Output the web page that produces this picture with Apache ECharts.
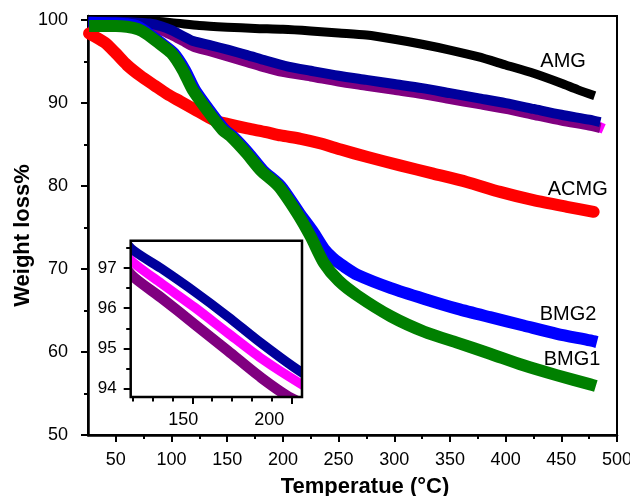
<!DOCTYPE html>
<html>
<head>
<meta charset="utf-8">
<script src="https://cdn.jsdelivr.net/npm/echarts@6/dist/echarts.min.js"></script>
<style>html,body{margin:0;padding:0;background:#fff}#c{width:630px;height:496px}</style>
</head>
<body>
<div id="c"></div>
<script>
// ---- data (temperature °C, weight %) ----
const amgT  = [25, 50, 75, 100, 125, 150, 175, 200, 225, 250, 275, 300, 325, 350, 375, 400, 425, 450, 465, 480];
const amgW  = [100, 100, 99.95, 99.7, 99.35, 99.15, 99.0, 98.9, 98.7, 98.45, 98.2, 97.7, 97.1, 96.4, 95.6, 94.6, 93.6, 92.4, 91.6, 90.9];
const acmgT = [26, 40, 50, 60, 72, 85, 96, 108, 120, 138, 150, 168, 185, 198, 216, 235, 252, 276, 305, 335, 365, 395, 425, 455, 479];
const acmgW = [98.4, 97.3, 96.0, 94.6, 93.3, 92.1, 91.1, 90.2, 89.3, 87.95, 87.5, 86.95, 86.5, 86.1, 85.7, 85.1, 84.4, 83.5, 82.5, 81.5, 80.5, 79.3, 78.3, 77.5, 76.9];
const bmg1T = [26, 50, 60, 70, 77, 88, 100, 110, 119, 135, 146, 153, 167, 180, 196, 213, 225, 237, 250, 267, 297, 327, 357, 386, 416, 446, 476, 481];
const bmg1W = [99.3, 99.3, 99.2, 98.9, 98.4, 97.3, 96.0, 94.0, 91.6, 88.6, 86.75, 86.0, 84.0, 81.9, 80.0, 76.7, 73.9, 70.7, 68.6, 66.8, 64.3, 62.45, 61.1, 59.8, 58.4, 57.2, 56.1, 55.9];
const bmg2T = [26, 50, 60, 70, 78, 90, 102, 112, 121, 137, 148, 155, 169, 182, 198, 215, 227, 237, 245, 255, 267, 297, 327, 357, 386, 416, 446, 476, 482];
const bmg2W = [99.7, 99.6, 99.5, 99.2, 98.5, 97.3, 96.0, 94.0, 91.6, 88.6, 86.75, 86.0, 84.0, 81.9, 80.0, 76.7, 74.5, 72.4, 71.3, 70.3, 69.3, 67.7, 66.4, 65.2, 64.2, 63.2, 62.2, 61.4, 61.2];
const hmg3T = [25, 50, 70, 80, 90, 100, 110, 119.4, 134.4, 151.2, 167.9, 184.6, 204.7, 225, 250, 275, 300, 325, 350, 375, 400, 425, 450, 475, 485];
const hmg3W = [99.8, 99.8, 99.7, 99.6, 99.3, 98.8, 98.1, 97.48, 96.99, 96.41, 95.79, 95.13, 94.41, 93.9, 93.3, 92.8, 92.3, 91.8, 91.2, 90.6, 90.0, 89.3, 88.6, 88.0, 87.7];
const hmg2T = [25, 50, 70, 80, 90, 100, 110, 119.4, 134.4, 151.2, 167.9, 184.6, 199.7, 225, 250, 275, 300, 325, 350, 375, 400, 425, 450, 475, 485];
const hmg2W = [99.6, 99.6, 99.4, 99.2, 98.8, 98.2, 97.5, 96.83, 96.26, 95.6, 94.94, 94.27, 93.76, 93.2, 92.6, 92.1, 91.6, 91.1, 90.5, 89.9, 89.3, 88.6, 87.9, 87.3, 87.0];
const hmg1T = [25, 50, 70, 80, 90, 100, 110, 119.4, 134.4, 151.2, 167.9, 184.6, 204.7, 225, 250, 275, 300, 325, 350, 375, 400, 425, 450, 475, 488];
const hmg1W = [99.7, 99.7, 99.55, 99.4, 99.05, 98.5, 97.8, 97.18, 96.62, 96.02, 95.38, 94.75, 94.11, 93.55, 92.95, 92.45, 91.95, 91.45, 90.85, 90.25, 89.65, 88.95, 88.25, 87.6, 86.9];

// ---- tick values ----
const xMajor = [50, 100, 150, 200, 250, 300, 350, 400, 450, 500];
const xMinor = [75, 125, 175, 225, 275, 325, 375, 425, 475];
const yMajor = [50, 60, 70, 80, 90, 100];
const yMinor = [55, 65, 75, 85, 95];
const insetXMajor = [150, 200];
const insetXMinor = [120, 130, 140, 160, 170, 180, 190];
const insetXLabels = [150, 200];
const insetYMajor = [94, 95, 96, 97];
const insetYMinor = [94.5, 95.5, 96.5, 97.5];

const zip = (t, w) => t.map((v, i) => [v, w[i]]);
const FONT = 'Liberation Sans';

// inset geometry (visible box) and a data box shrunk so line clipping stops at the border
const IN = { left: 130.7, right: 328, top: 240.7, bottom: 99, xmin: 119.08, xmax: 205.07, ymin: 93.79, ymax: 97.68 };
const SH = 5.25;
const inW = 630 - IN.left - IN.right, inH = 496 - IN.top - IN.bottom;
const dx = SH * (IN.xmax - IN.xmin) / inW, dy = SH * (IN.ymax - IN.ymin) / inH;

function lbl(text, coord, size) {
  return {
    symbol: 'circle', symbolSize: 0, silent: true, animation: false,
    label: { show: true, position: 'inside', color: '#000', fontSize: size, fontFamily: FONT },
    data: [{ coord: coord, name: text, label: { formatter: text } }]
  };
}

function mainLine(name, t, w, color, width, extra) {
  return Object.assign({
    name: name, type: 'line', data: zip(t, w), xAxisIndex: 0, yAxisIndex: 0,
    showSymbol: false, symbol: 'none', smooth: 0.25,
    lineStyle: { color: color, width: width, cap: 'butt', join: 'round' }, z: 2
  }, extra || {});
}
function insetLine(name, t, w, color, width, extra) {
  return Object.assign({
    name: name + '_inset', type: 'line', data: zip(t, w), xAxisIndex: 5, yAxisIndex: 4,
    showSymbol: false, symbol: 'none', smooth: 0.25, clip: true,
    lineStyle: { color: color, width: width, cap: 'butt', join: 'round' }, z: 12
  }, extra || {});
}

const chart = echarts.init(document.getElementById('c'), null, { renderer: 'canvas' });
const axisLine = { show: true, lineStyle: { color: '#000', width: 2.5 } };
const noLine = { show: false };

chart.setOption({
  animation: false,
  backgroundColor: '#fff',
  textStyle: { fontFamily: FONT },
  grid: [
    { left: 88, right: 13, top: 16, bottom: 61, show: true, borderColor: '#000', borderWidth: 2, backgroundColor: 'transparent', containLabel: false, outerBoundsMode: 'none' },
    { left: IN.left, right: IN.right, top: IN.top, bottom: IN.bottom, show: true, borderColor: '#000', borderWidth: 0, backgroundColor: '#fff', z: 10, containLabel: false, outerBoundsMode: 'none' },
    { left: IN.left + SH, right: IN.right + SH, top: IN.top + SH, bottom: IN.bottom + SH, show: false, z: 10, containLabel: false, outerBoundsMode: 'none' },
    { left: IN.left, right: IN.right, top: IN.top, bottom: IN.bottom, show: true, borderColor: '#000', borderWidth: 2.5, backgroundColor: 'transparent', z: 16, containLabel: false, outerBoundsMode: 'none' }
  ],
  xAxis: [
    { type: 'value', gridIndex: 0, min: 25, max: 500, position: 'bottom',
      name: 'Temperatue (°C)', nameLocation: 'middle', nameGap: 41, nameMoveOverlap: false,
      nameTextStyle: { fontSize: 22, fontWeight: 'bold', color: '#000', fontFamily: FONT, padding: [0, 0, 0, 25] },
      axisLine: axisLine, splitLine: { show: false },
      axisTick: { show: true, inside: false, length: 7, customValues: xMajor, lineStyle: { color: '#000', width: 2 } },
      axisLabel: { show: true, customValues: xMajor, margin: 16, fontSize: 18, color: '#000', fontFamily: FONT } },
    { type: 'value', gridIndex: 0, min: 25, max: 500, position: 'bottom',
      axisLine: noLine, splitLine: { show: false },
      axisTick: { show: true, inside: false, length: 4, customValues: xMinor, lineStyle: { color: '#000', width: 2 } },
      axisLabel: { show: false } },
    { type: 'value', gridIndex: 1, min: IN.xmin, max: IN.xmax, z: 14, position: 'bottom',
      axisLine: noLine, splitLine: { show: false },
      axisTick: { show: true, inside: false, length: 7, customValues: insetXMajor, lineStyle: { color: '#000', width: 2 } },
      axisLabel: { show: false } },
    { type: 'value', gridIndex: 1, min: IN.xmin, max: IN.xmax, z: 14, position: 'bottom',
      axisLine: noLine, splitLine: { show: false },
      axisTick: { show: true, inside: false, length: 4.5, customValues: insetXMinor, lineStyle: { color: '#000', width: 2 } },
      axisLabel: { show: false } },
    { type: 'value', gridIndex: 1, min: 119.4, max: 219.1, z: 14, position: 'bottom',
      axisLine: noLine, splitLine: { show: false }, axisTick: { show: false },
      axisLabel: { show: true, customValues: insetXLabels, margin: 14, fontSize: 18, color: '#000', fontFamily: FONT } },
    { type: 'value', gridIndex: 2, min: IN.xmin + dx, max: IN.xmax - dx, show: false, position: 'bottom' }
  ],
  yAxis: [
    { type: 'value', gridIndex: 0, min: 50, max: 100.5, position: 'left',
      name: 'Weight loss%', nameLocation: 'middle', nameGap: 54, nameMoveOverlap: false,
      nameTextStyle: { fontSize: 22, fontWeight: 'bold', color: '#000', fontFamily: FONT, padding: [0, 20, 0, 0] },
      axisLine: axisLine, splitLine: { show: false },
      axisTick: { show: true, inside: false, length: 7, customValues: yMajor, lineStyle: { color: '#000', width: 2 } },
      axisLabel: { show: true, customValues: yMajor, margin: 20, fontSize: 18, color: '#000', fontFamily: FONT } },
    { type: 'value', gridIndex: 0, min: 50, max: 100.5, position: 'left',
      axisLine: noLine, splitLine: { show: false },
      axisTick: { show: true, inside: false, length: 4, customValues: yMinor, lineStyle: { color: '#000', width: 2 } },
      axisLabel: { show: false } },
    { type: 'value', gridIndex: 1, min: IN.ymin, max: IN.ymax, z: 14, position: 'left',
      axisLine: noLine, splitLine: { show: false },
      axisTick: { show: true, inside: false, length: 7, customValues: insetYMajor, lineStyle: { color: '#000', width: 2 } },
      axisLabel: { show: true, customValues: insetYMajor, margin: 14, fontSize: 17, color: '#000', fontFamily: FONT } },
    { type: 'value', gridIndex: 1, min: IN.ymin, max: IN.ymax, position: 'left', z: 14,
      axisLine: noLine, splitLine: { show: false },
      axisTick: { show: true, inside: false, length: 4.5, customValues: insetYMinor, lineStyle: { color: '#000', width: 2 } },
      axisLabel: { show: false } },
    { type: 'value', gridIndex: 2, min: IN.ymin + dy, max: IN.ymax - dy, show: false, position: 'left' }
  ],
  series: [
    mainLine('AMG', amgT, amgW, '#000000', 9, { markPoint: lbl('AMG', [451.6, 94.96], 20) }),
    mainLine('HMG1', hmg1T, hmg1W, '#ff00ff', 10),
    mainLine('HMG2', hmg2T, hmg2W, '#800080', 10),
    mainLine('HMG3', hmg3T, hmg3W, '#00009c', 10),
    mainLine('ACMG', acmgT, acmgW, '#ff0000', 12, { lineStyle: { color: '#ff0000', width: 12, cap: 'round', join: 'round' }, markPoint: lbl('ACMG', [464.7, 79.6], 20) }),
    mainLine('BMG2', bmg2T, bmg2W, '#0000ff', 12, { markPoint: lbl('BMG2', [456, 64.5], 20) }),
    mainLine('BMG1', bmg1T, bmg1W, '#008000', 12, { markPoint: lbl('BMG1', [459.7, 59.1], 20) }),
    insetLine('HMG2', hmg2T, hmg2W, '#800080', 10.5, { markPoint: lbl('HMG2', [155.6, 94.28], 20) }),
    insetLine('HMG1', hmg1T, hmg1W, '#ff00ff', 9.5, {
      markPoint: lbl('HMG1', [137.2, 95.0], 20),
      markLine: { silent: true, animation: false, symbol: ['none', 'arrow'], symbolSize: 9,
        lineStyle: { color: '#000', width: 1.5, type: 'solid' }, label: { show: false },
        data: [[{ coord: [133.1, 95.57] }, { coord: [146.2, 96.16] }]] }
    }),
    insetLine('HMG3', hmg3T, hmg3W, '#00009c', 9.5, { markPoint: lbl('HMG3', [176.5, 96.5], 20) })
  ]
});
</script>
</body>
</html>
